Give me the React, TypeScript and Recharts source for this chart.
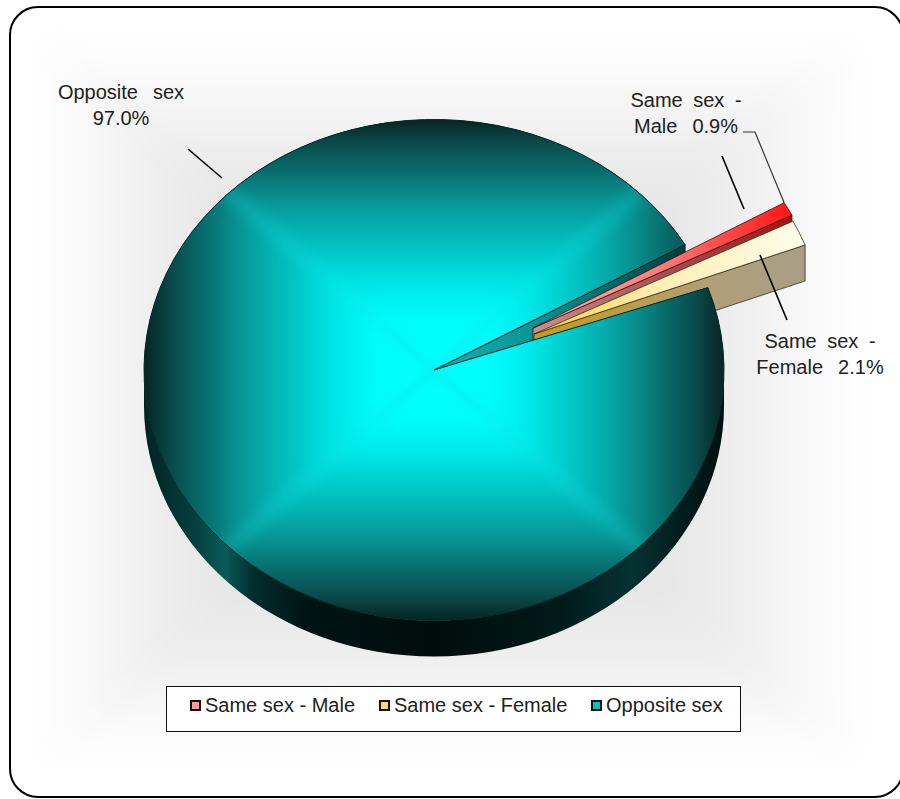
import { PieChart, Pie, Legend } from 'recharts'

const names = ['Same sex - Male', 'Same sex - Female', 'Opposite sex']
const shares = [0.9, 2.1, 97.0]
const data = names.map((name, i) => ({ name, value: shares[i] }))

const CX = 434
const CY = 370
const RADIUS = 290
const SQUASH = 0.864 // the pie is tilted, so its top is an ellipse
const DEPTH = 36
const FEMALE_NUDGE = 1.6 // perspective makes the pulled out slice look a bit narrower

// how far each slice is pulled out of the pie
const explode: Record<string, [number, number]> = {
  'Same sex - Male': [99, -42],
  'Same sex - Female': [100, -36],
  'Opposite sex': [0, 0],
}

const labelSpots: Record<string, { x: number; y: number; leader: [number, number, number, number] }> = {
  'Same sex - Male': { x: 686, y: 107, leader: [722, 156, 744, 209] },
  'Same sex - Female': { x: 820, y: 348, leader: [760, 255, 787, 320] },
  'Opposite sex': { x: 121, y: 99, leader: [188, 149, 222, 178] },
}

const swatches: Record<string, string> = {
  'Same sex - Male': '#ff9a9a',
  'Same sex - Female': '#ffd878',
  'Opposite sex': '#00c4c4',
}

const tealStops: [number, string][] = [
  [0, '#00ffff'],
  [0.2, '#00fcfc'],
  [0.33, '#00e8e8'],
  [0.45, '#02cccc'],
  [0.57, '#05b0b0'],
  [0.68, '#089292'],
  [0.79, '#086e6e'],
  [0.9, '#0a4c4c'],
  [1, '#082424'],
]
const glowStops: [number, string][] = [
  [0, '#e4e4e4'],
  [0.55, '#e8e8e8'],
  [0.72, '#f0f0f0'],
  [0.88, '#fafafa'],
  [1, '#ffffff'],
]

function point(ox: number, oy: number, r: number, deg: number) {
  const a = (deg * Math.PI) / 180
  return [ox + r * Math.cos(a), oy - r * SQUASH * Math.sin(a)]
}

function sectorPath(ox: number, oy: number, r: number, start: number, end: number) {
  const [x1, y1] = point(ox, oy, r, start)
  const [x2, y2] = point(ox, oy, r, end)
  const large = Math.abs(start - end) > 180 ? 1 : 0
  return `M${ox},${oy} L${x1},${y1} A${r},${r * SQUASH} 0 ${large} 1 ${x2},${y2} Z`
}

function radialWall(ox: number, oy: number, r: number, deg: number) {
  const [x, y] = point(ox, oy, r, deg)
  return `${ox},${oy} ${x},${y} ${x},${y + DEPTH} ${ox},${oy + DEPTH}`
}

function Stops({ stops }: { stops: [number, string][] }) {
  return (
    <>
      {stops.map(([o, c]) => (
        <stop key={o} offset={o} stopColor={c} />
      ))}
    </>
  )
}

// rectangular "from centre" gradient, made of four triangles
function FourSided({ id, x0, y0, x1, y1, cx, cy, stops, blur }: any) {
  const sides = [
    { k: 't', to: [cx, y0], pts: `${x0},${y0} ${x1},${y0} ${cx},${cy}` },
    { k: 'r', to: [x1, cy], pts: `${x1},${y0} ${x1},${y1} ${cx},${cy}` },
    { k: 'b', to: [cx, y1], pts: `${x1},${y1} ${x0},${y1} ${cx},${cy}` },
    { k: 'l', to: [x0, cy], pts: `${x0},${y1} ${x0},${y0} ${cx},${cy}` },
  ]
  return (
    <g filter={`url(#${blur})`}>
      <defs>
        {sides.map((s) => (
          <linearGradient key={s.k} id={id + s.k} gradientUnits="userSpaceOnUse" x1={cx} y1={cy} x2={s.to[0]} y2={s.to[1]}>
            <Stops stops={stops} />
          </linearGradient>
        ))}
      </defs>
      {sides.map((s) => (
        <polygon key={s.k} points={s.pts} fill={`url(#${id + s.k})`} stroke={`url(#${id + s.k})`} strokeWidth={0.5} />
      ))}
    </g>
  )
}

function OppositeWalls(p: any) {
  const { cx, cy, outerRadius: r, endAngle } = p
  const ry = r * SQUASH
  return (
    <g>
      <path
        d={`M${cx - r},${cy} A${r},${ry} 0 0 0 ${cx + r},${cy} L${cx + r},${cy + DEPTH} A${r},${ry} 0 0 1 ${cx - r},${cy + DEPTH} Z`}
        fill="url(#outerWall)"
      />
      <polygon points={radialWall(cx, cy, r, endAngle + 360)} fill="url(#cutWall)" stroke="#012" strokeWidth={0.8} />
    </g>
  )
}

function MaleSlice(p: any) {
  const [dx, dy] = explode[p.name]
  const ox = p.cx + dx
  const oy = p.cy + dy
  return (
    <g stroke="#3a1010" strokeWidth={0.8}>
      <polygon points={radialWall(ox, oy, p.outerRadius, p.endAngle)} fill="url(#maleWall)" />
      <path d={sectorPath(ox, oy, p.outerRadius, p.startAngle, p.endAngle)} fill="url(#maleTop)" />
    </g>
  )
}

function FemaleSlice(p: any, top: boolean) {
  const [dx, dy] = explode[p.name]
  const ox = p.cx + dx
  const oy = p.cy + dy
  const end = p.endAngle + FEMALE_NUDGE
  if (!top) return <polygon points={radialWall(ox, oy, p.outerRadius, end)} fill="url(#femaleWall)" stroke="#3a3020" strokeWidth={0.8} />
  return <path d={sectorPath(ox, oy, p.outerRadius, p.startAngle, end)} fill="url(#femaleTop)" stroke="#3a3020" strokeWidth={0.8} />
}

function OppositeTop(p: any) {
  const { cx, cy, outerRadius: r, startAngle, endAngle } = p
  const ry = r * SQUASH
  const d = sectorPath(cx, cy, r, startAngle, endAngle)
  // the creases of the gradient run from the centre to the box corners and read brighter
  const corners = [
    [cx - r, cy - ry],
    [cx + r, cy - ry],
    [cx + r, cy + ry],
    [cx - r, cy + ry],
  ]
  return (
    <g>
      <defs>
        <clipPath id="tealClip">
          <path d={d} />
        </clipPath>
      </defs>
      <g clipPath="url(#tealClip)">
        <rect x={cx - r} y={cy - ry} width={2 * r} height={2 * ry} fill="#082424" />
        <FourSided id="teal" x0={cx - r} y0={cy - ry} x1={cx + r} y1={cy + ry} cx={cx} cy={cy} stops={tealStops} blur="softTeal" />
        <g filter="url(#softCrease)" stroke="#14e8e8" strokeOpacity={0.2} strokeWidth={14}>
          {corners.map(([x, y]) => (
            <line key={`${x},${y}`} x1={cx} y1={cy} x2={x} y2={y} />
          ))}
        </g>
      </g>
      <path d={d} fill="none" stroke="#012a2a" strokeWidth={1} />
    </g>
  )
}

// the slices overlap, so they are painted in three passes
function wallsPass(p: any) {
  return p.name === 'Opposite sex' ? OppositeWalls(p) : <g />
}
function middlePass(p: any) {
  if (p.name === 'Same sex - Male') return MaleSlice(p)
  if (p.name === 'Same sex - Female') return FemaleSlice(p, false)
  return <g />
}
function topPass(p: any) {
  if (p.name === 'Same sex - Female') return FemaleSlice(p, true)
  if (p.name === 'Opposite sex') return OppositeTop(p)
  return <g />
}

function renderLabel(p: any) {
  const spot = labelSpots[p.name]
  const pct = `${p.value.toFixed(1)}%`
  const parts = p.name.split(' - ')
  const lines = parts.length > 1 ? [`${parts[0]} -`, `${parts[1]} ${pct}`] : [p.name, pct]
  const [x1, y1, x2, y2] = spot.leader
  return (
    <g key={p.name}>
      <line x1={x1} y1={y1} x2={x2} y2={y2} stroke="#000" strokeWidth={1.6} />
      {p.name === 'Same sex - Male' && (
        <polyline points={`743,132 755,132 ${point(p.cx + 99, p.cy - 42, p.outerRadius, p.startAngle).join(',')}`} fill="none" stroke="#333" strokeWidth={1.2} />
      )}
      {lines.map((t: string, i: number) => (
        <text
          key={t}
          x={spot.x}
          y={spot.y + i * 26}
          textAnchor="middle"
          fontFamily="Liberation Sans"
          fontSize={20}
          fill="#222"
          style={{ wordSpacing: t.endsWith('-') ? 5 : 9.5 }}
        >
          {t}
        </text>
      ))}
    </g>
  )
}

function LegendBox({ payload }: any) {
  const lefts = [23, 212, 424]
  const shown = names.filter((n) => (payload || []).some((e: any) => e.value === n && e.type !== 'none'))
  return (
    <div style={{ position: 'relative', boxSizing: 'border-box', width: 575, height: 46, background: '#fff', border: '1.5px solid #111', fontFamily: 'Liberation Sans', fontSize: 20, color: '#222' }}>
      {shown.map((n, i) => (
        <div key={n} style={{ position: 'absolute', left: lefts[i], top: 7, display: 'flex', alignItems: 'center', whiteSpace: 'nowrap' }}>
          <span style={{ display: 'inline-block', boxSizing: 'border-box', width: 11, height: 11, marginRight: 4, background: swatches[n], border: '2px solid #111' }} />
          {n}
        </div>
      ))}
    </div>
  )
}

export default function App() {
  const pieProps = {
    data,
    dataKey: 'value',
    nameKey: 'name',
    cx: CX,
    cy: CY,
    outerRadius: RADIUS,
    startAngle: 30,
    endAngle: -330,
    isAnimationActive: false,
  }
  return (
    <div style={{ position: 'absolute', left: 0, top: 0, width: 900, height: 799, background: '#fff', overflow: 'hidden' }}>
      <PieChart width={900} height={799} margin={{ top: 0, right: 0, bottom: 0, left: 0 }}>
        <defs>
          <filter id="softTeal" filterUnits="userSpaceOnUse" x={0} y={0} width={900} height={799} colorInterpolationFilters="sRGB">
            <feGaussianBlur stdDeviation={2.5} />
          </filter>
          <filter id="softCrease" filterUnits="userSpaceOnUse" x={0} y={0} width={900} height={799} colorInterpolationFilters="sRGB">
            <feGaussianBlur stdDeviation={7} />
          </filter>
          <filter id="softGlow" filterUnits="userSpaceOnUse" x={0} y={0} width={900} height={799} colorInterpolationFilters="sRGB">
            <feGaussianBlur stdDeviation={10} />
          </filter>
          <clipPath id="cardClip">
            <rect x={10} y={7} width={893} height={790} rx={28} />
          </clipPath>
          <linearGradient id="outerWall" gradientUnits="userSpaceOnUse" x1={CX - RADIUS} y1={0} x2={CX + RADIUS} y2={0}>
            <Stops stops={[[0, '#022222'], [0.08, '#043c3c'], [0.14, '#0a5a5a'], [0.19, '#022c2c'], [0.28, '#001414'], [0.5, '#000c0c'], [0.72, '#011a1a'], [0.84, '#063232'], [0.93, '#011c1c'], [1, '#001010']]} />
          </linearGradient>
          <linearGradient id="cutWall" gradientUnits="userSpaceOnUse" x1={CX} y1={0} x2={CX + 251} y2={0}>
            <Stops stops={[[0, '#0cb4b4'], [0.45, '#0a9090'], [1, '#013c3c']]} />
          </linearGradient>
          <linearGradient id="maleTop" gradientUnits="userSpaceOnUse" x1={533} y1={0} x2={793} y2={0}>
            <Stops stops={[[0, '#ffb4b4'], [0.5, '#ff7a7a'], [1, '#ff1414']]} />
          </linearGradient>
          <linearGradient id="maleWall" gradientUnits="userSpaceOnUse" x1={533} y1={0} x2={793} y2={0}>
            <Stops stops={[[0, '#c89090'], [0.5, '#a85050'], [1, '#a81010']]} />
          </linearGradient>
          <linearGradient id="femaleTop" gradientUnits="userSpaceOnUse" x1={534} y1={0} x2={808} y2={0}>
            <Stops stops={[[0, '#ffd040'], [0.45, '#ffeeb4'], [1, '#fffdea']]} />
          </linearGradient>
          <linearGradient id="femaleWall" gradientUnits="userSpaceOnUse" x1={534} y1={0} x2={808} y2={0}>
            <Stops stops={[[0, '#c89a18'], [0.65, '#b0a078'], [1, '#a89e88']]} />
          </linearGradient>
        </defs>
        <rect x={10} y={7} width={893} height={790} rx={28} fill="#fff" />
        <g clipPath="url(#cardClip)">
          <FourSided id="glow" x0={30} y0={30} x1={870} y1={770} cx={CX} cy={400} stops={glowStops} blur="softGlow" />
        </g>
        <rect x={10} y={7} width={893} height={790} rx={28} fill="none" stroke="#000" strokeWidth={2} />
        <Pie {...pieProps} legendType="none" shape={wallsPass} />
        <Pie {...pieProps} legendType="none" shape={middlePass} />
        <Pie {...pieProps} shape={topPass} label={renderLabel} labelLine={false} />
        <Legend content={LegendBox} wrapperStyle={{ left: 166, top: 686, width: 575, height: 46 }} />
      </PieChart>
    </div>
  )
}
